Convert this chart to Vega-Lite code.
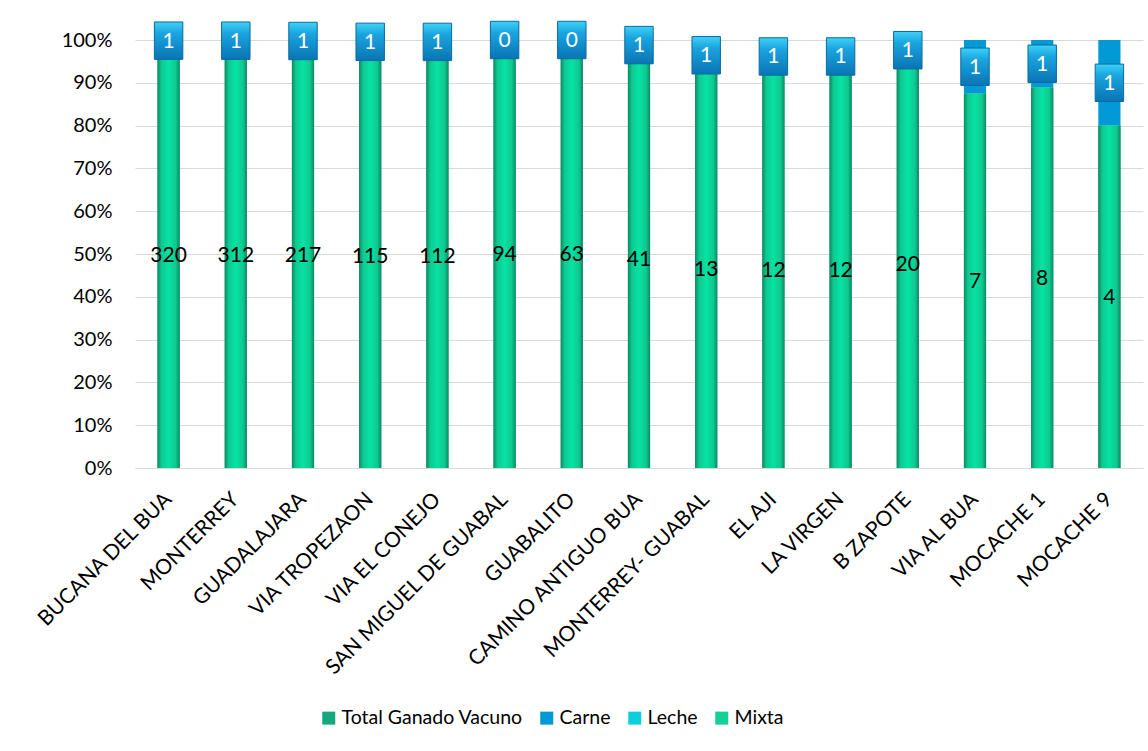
{
  "$schema": "https://vega.github.io/schema/vega-lite/v6.json",
  "width": 1008,
  "height": 428,
  "autosize": {"type": "none"},
  "padding": {"left": 135, "top": 40, "right": 5, "bottom": 283},
  "background": "white",
  "config": {"font": "Lato", "view": {"stroke": null}},
  "data": {
    "values": [
      {"lugar": "BUCANA DEL BUA", "serie": "Total Ganado Vacuno", "valor": 320},
      {"lugar": "BUCANA DEL BUA", "serie": "Carne", "valor": 1},
      {"lugar": "MONTERREY", "serie": "Total Ganado Vacuno", "valor": 312},
      {"lugar": "MONTERREY", "serie": "Carne", "valor": 1},
      {"lugar": "GUADALAJARA", "serie": "Total Ganado Vacuno", "valor": 217},
      {"lugar": "GUADALAJARA", "serie": "Carne", "valor": 1},
      {"lugar": "VIA TROPEZAON", "serie": "Total Ganado Vacuno", "valor": 115},
      {"lugar": "VIA TROPEZAON", "serie": "Carne", "valor": 1},
      {"lugar": "VIA EL CONEJO", "serie": "Total Ganado Vacuno", "valor": 112},
      {"lugar": "VIA EL CONEJO", "serie": "Carne", "valor": 1},
      {"lugar": "SAN MIGUEL DE GUABAL", "serie": "Total Ganado Vacuno", "valor": 94},
      {"lugar": "SAN MIGUEL DE GUABAL", "serie": "Carne", "valor": 0},
      {"lugar": "GUABALITO", "serie": "Total Ganado Vacuno", "valor": 63},
      {"lugar": "GUABALITO", "serie": "Carne", "valor": 0},
      {"lugar": "CAMINO ANTIGUO BUA", "serie": "Total Ganado Vacuno", "valor": 41},
      {"lugar": "CAMINO ANTIGUO BUA", "serie": "Carne", "valor": 1},
      {"lugar": "MONTERREY- GUABAL", "serie": "Total Ganado Vacuno", "valor": 13},
      {"lugar": "MONTERREY- GUABAL", "serie": "Carne", "valor": 1},
      {"lugar": "EL AJI", "serie": "Total Ganado Vacuno", "valor": 12},
      {"lugar": "EL AJI", "serie": "Carne", "valor": 1},
      {"lugar": "LA  VIRGEN", "serie": "Total Ganado Vacuno", "valor": 12},
      {"lugar": "LA  VIRGEN", "serie": "Carne", "valor": 1},
      {"lugar": "B  ZAPOTE", "serie": "Total Ganado Vacuno", "valor": 20},
      {"lugar": "B  ZAPOTE", "serie": "Carne", "valor": 1},
      {"lugar": "VIA AL BUA", "serie": "Total Ganado Vacuno", "valor": 7},
      {"lugar": "VIA AL BUA", "serie": "Carne", "valor": 1},
      {"lugar": "MOCACHE 1", "serie": "Total Ganado Vacuno", "valor": 8},
      {"lugar": "MOCACHE 1", "serie": "Carne", "valor": 1},
      {"lugar": "MOCACHE 9", "serie": "Total Ganado Vacuno", "valor": 4},
      {"lugar": "MOCACHE 9", "serie": "Carne", "valor": 1}
    ]
  },
  "transform": [
    {"stack": "valor", "groupby": ["lugar"], "offset": "normalize", "sort": [{"field": "serie", "order": "descending"}], "as": ["v0", "v1"]},
    {"calculate": "(datum.v0 + datum.v1) / 2", "as": "vm"}
  ],
  "encoding": {
    "x": {
      "field": "lugar", "type": "nominal", "sort": null,
      "scale": {"paddingInner": 0.67},
      "axis": {"title": null, "labelAngle": -45, "labelAlign": "right", "labelBaseline": "middle", "labelPadding": 28, "labelFontSize": 21, "ticks": false, "domainColor": "#d9d9d9", "labelColor": "#000000", "labelLimit": 400}
    }
  },
  "layer": [
    {
      "mark": {"type": "bar"},
      "encoding": {
        "y": {"field": "v1", "type": "quantitative", "scale": {"domain": [0, 1]},
          "axis": {"title": null, "values": [0, 0.1, 0.2, 0.3, 0.4, 0.5, 0.6, 0.7, 0.8, 0.9, 1], "format": ".0%", "domain": false, "ticks": false, "grid": true, "gridColor": "#d9d9d9", "labelFontSize": 20, "labelPadding": 23, "labelColor": "#000000"}},
        "y2": {"field": "v0"},
        "color": {"field": "serie", "type": "nominal",
          "scale": {"domain": ["Total Ganado Vacuno", "Carne", "Leche", "Mixta"], "range": ["#17a77f", "#0399d6", "#0bcfda", "#13cf98"]},
          "legend": {"orient": "none", "legendX": 184, "legendY": 668, "direction": "horizontal", "title": null, "symbolType": "square", "symbolSize": 169, "symbolStrokeWidth": 0, "labelFontSize": 19.5, "labelOffset": 3, "columnPadding": 14, "labelColor": "#000000", "labelLimit": 400}}
      }
    },
    {
      "transform": [{"filter": "datum.serie == 'Total Ganado Vacuno'"}],
      "mark": {"type": "bar", "fill": {"gradient": "linear", "x1": 0, "x2": 1, "y1": 0, "y2": 0, "stops": [{"offset": 0, "color": "#0a8a63"}, {"offset": 0.18, "color": "#0fc990"}, {"offset": 0.5, "color": "#06e3a3"}, {"offset": 0.82, "color": "#0fc990"}, {"offset": 1, "color": "#0a8a63"}]}},
      "encoding": {
        "y": {"field": "v1", "type": "quantitative"},
        "y2": {"field": "v0"}
      }
    },
    {
      "transform": [{"filter": "datum.serie == 'Total Ganado Vacuno'"}],
      "mark": {"type": "text", "fontSize": 21, "color": "#000000", "baseline": "middle", "dy": 1},
      "encoding": {
        "y": {"field": "vm", "type": "quantitative"},
        "text": {"field": "valor", "type": "quantitative"}
      }
    },
    {
      "transform": [{"filter": "datum.serie == 'Carne'"}],
      "mark": {"type": "point", "filled": true, "shape": "M-0.76,-1H0.76V1H-0.76Z", "size": 1400, "opacity": 1, "strokeWidth": 1, "stroke": "#0a6aa3",
        "fill": {"gradient": "linear", "x1": 0, "x2": 0, "y1": 0, "y2": 1, "stops": [{"offset": 0, "color": "#3fd2f6"}, {"offset": 0.3, "color": "#1aa5e0"}, {"offset": 1, "color": "#0a74b4"}]}},
      "encoding": {
        "y": {"field": "vm", "type": "quantitative"}
      }
    },
    {
      "transform": [{"filter": "datum.serie == 'Carne'"}],
      "mark": {"type": "text", "fontSize": 21, "color": "#ffffff", "baseline": "middle", "dy": 1},
      "encoding": {
        "y": {"field": "vm", "type": "quantitative"},
        "text": {"field": "valor", "type": "quantitative"}
      }
    }
  ]
}
